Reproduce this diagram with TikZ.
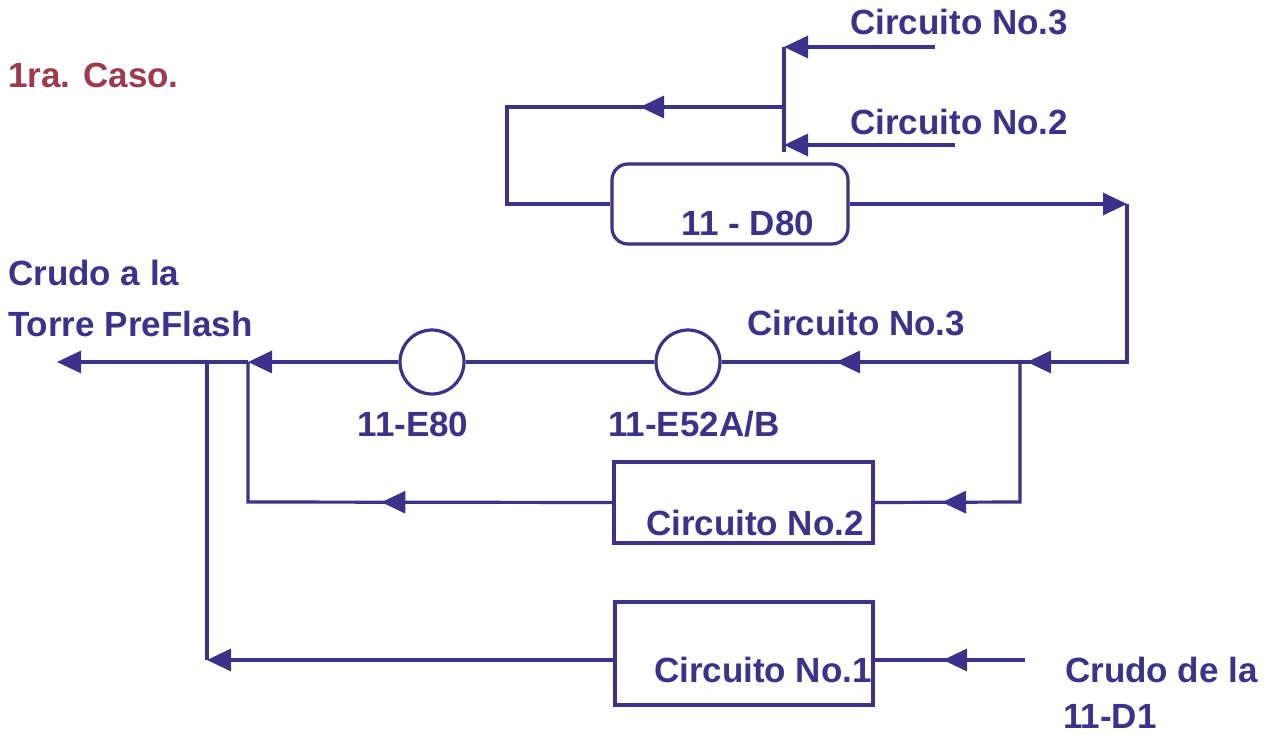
\documentclass[tikz,border=0pt]{standalone}
\usepackage{fontspec}
\setmainfont{Liberation Sans}
\usetikzlibrary{arrows.meta,decorations.markings}
\definecolor{ink}{RGB}{60,50,140}
\definecolor{titlered}{RGB}{158,58,76}
\tikzset{
  flow/.style={draw=ink, line width=3.2pt},
  tipend/.style={-{Triangle[length=24pt,width=22pt]}},
  midtip/.style={postaction={decorate,decoration={markings,
      mark=at position #1 with {\arrow{Triangle[length=24pt,width=22pt]}}}}},
  lbl/.style={text=ink, font=\fontsize{35}{40}\selectfont\bfseries, inner sep=0pt},
  vessel/.style={draw=ink, line width=3.2pt, rounded corners=16pt, inner sep=0pt},
  unitbox/.style={draw=ink, line width=3.2pt, inner sep=0pt},
  exch/.style={draw=ink, line width=3.2pt, circle, inner sep=0pt, minimum size=64pt},
}
\begin{document}
\begin{tikzpicture}[x=1pt,y=-1pt]
\useasboundingbox (0,0) rectangle (1274,735);
\fill[white] (0,0) rectangle (1274,735);

% equipment
\node[vessel, minimum width=236pt, minimum height=80pt] (d80) at (730,204) {};
\node[unitbox, minimum width=259pt, minimum height=81pt] (box2) at (743.5,502.5) {};
\node[unitbox, minimum width=258pt, minimum height=103pt] (box1) at (744,653.5) {};
\node[exch] (e52) at (688,362) {};
\node[exch] (e80) at (432,362) {};

% coordinates
\coordinate (c3in) at (935,47);
\coordinate (c3j) at (784,47);
\coordinate (c2in) at (955,145);
\coordinate (c2j) at (784,145);
\coordinate (vbot) at (784,152);
\coordinate (topj) at (784,107);
\coordinate (topl) at (507,107);
\coordinate (dl) at (507,204);
\coordinate (ne) at (1127,204);
\coordinate (se) at (1127,362);
\coordinate (j3) at (1020,362);
\coordinate (j3b) at (1020,502);
\coordinate (j2) at (248,362);
\coordinate (j2b) at (248,502);
\coordinate (j1) at (207,362);
\coordinate (j1b) at (207,660);
\coordinate (out) at (57,362);
\coordinate (cin) at (1025,660);

% connectors
\draw[flow,tipend] (c3in) -- (c3j);
\draw[flow,tipend] (c2in) -- (c2j);
\draw[flow] (c3j) -- (vbot);
\draw[flow,midtip=144pt] (topj) -- (topl) -- (dl) -- (d80.west);
\draw[flow,tipend] (d80.east) -- (ne);
\draw[flow,midtip=258pt] (ne) -- (se) -- (j3);
\draw[flow,midtip=184pt] (j3) -- (e52.east);
\draw[flow] (e52.west) -- (e80.east);
\draw[flow,tipend] (e80.west) -- (j2);
\draw[flow,tipend] (j2) -- (out);
\draw[flow,midtip=218pt] (j3) -- (j3b) -- (box2.east);
\draw[flow,midtip=231pt] (box2.west) -- (j2b) -- (j2);
\draw[flow] (j1) -- (j1b);
\draw[flow,tipend] (box1.west |- j1b) -- (j1b);
\draw[flow,midtip=82pt] (cin) -- (box1.east |- cin);

% labels
\node[lbl, text=titlered, anchor=base west] (title) at (8,88) {1ra. Caso.};
\node[lbl, anchor=base west] (t3) at (850,35) {Circuito No.3};
\node[lbl, anchor=base west] (t2) at (850,135) {Circuito No.2};
\node[lbl, anchor=base] (td80) at (748,236) {11 - D80};
\node[lbl, anchor=base west] (out1) at (8,286) {Crudo a la};
\node[lbl, anchor=base west] (out2) at (8,336) {Torre PreFlash};
\node[lbl, anchor=base west] (m3) at (747,335) {Circuito No.3};
\node[lbl, anchor=base] (te80) at (413,436) {11-E80};
\node[lbl, anchor=base west] (te52) at (608,436) {11-E52A/B};
\node[lbl, anchor=base east] (tb2) at (864,535) {Circuito No.2};
\node[lbl, anchor=base east] (tb1) at (872,682) {Circuito No.1};
\node[lbl, anchor=base west] (in1) at (1065,682) {Crudo de la};
\node[lbl, anchor=base west] (in2) at (1063,728) {11-D1};
\end{tikzpicture}
\end{document}
